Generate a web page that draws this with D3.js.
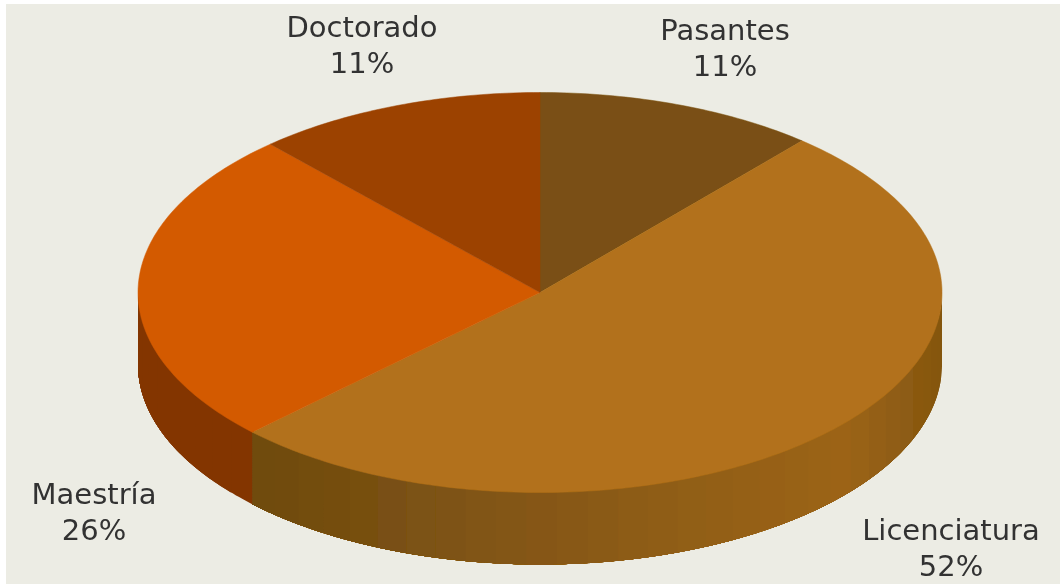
<!DOCTYPE html>
<html><head><meta charset="utf-8">
<script src="https://cdn.jsdelivr.net/npm/d3@7/dist/d3.min.js"></script>
<style>html,body{margin:0;padding:0;background:#fff}svg{display:block}</style>
</head><body><svg id="c" width="1060" height="584"></svg>
<script>
const categories = ["Pasantes","Licenciatura","Maestría","Doctorado"];
const values = [11.3,51.4,25.6,11.7];
const percentLabels = ["11%","52%","26%","11%"];
const topColors = ["#7a5012","#b2711a","#d35a00","#9c4300"];
const sideShadePositions = [0,0.5,0.86,1];
const sideShades = [
  ["#7a5012","#7a5012","#7a5012","#7a5012"],
  ["#6e4a10","#8a5a14","#9c6416","#84560f"],
  ["#833600","#833600","#833600","#833600"],
  ["#833600","#833600","#833600","#833600"]
];
const labelAnchors = [[725,40],[951,540],[94,504],[362,37]];

const W=1060,H=584,cx=540,cy=292.5,rx=402,ry=200,depth=72;
const svg=d3.select("#c");
const defs=svg.append("defs");
defs.append("filter").attr("id","soft").append("feGaussianBlur").attr("stdDeviation",0.6);
svg.append("rect").attr("width",W).attr("height",H).attr("fill","#fff");
svg.append("rect").attr("x",6).attr("y",4).attr("width",W-6).attr("height",H-4).attr("fill","#ecece4");

const arcs=d3.pie().value(d=>d).sort(null)(values);
const px=a=>cx+rx*Math.sin(a), py=a=>cy-ry*Math.cos(a);
const line=d3.line();
const g=svg.append("g").attr("filter","url(#soft)");

// side wall, in narrow bands shaded by horizontal position
const xPos=d3.scaleLinear().domain([0,1]).range([252,cx+rx]);
const shade=arcs.map((d,i)=>d3.scaleLinear().domain(sideShadePositions.map(xPos)).range(sideShades[i]).clamp(true));
const bandStep=Math.PI/40;
// each band runs on to the slice's end and the next band paints over it, leaving no seams
arcs.forEach((d,i)=>{
  const s=Math.max(d.startAngle,Math.PI/2), e=Math.min(d.endAngle,Math.PI*1.5);
  if(e<=s) return;
  const n=Math.max(1,Math.ceil((e-s)/bandStep));
  d3.range(n).forEach(k=>{
    const a0=s+(e-s)*k/n,a1=e;
    const m=Math.max(2,Math.ceil((a1-a0)/0.01));
    const pts=d3.range(m+1).map(j=>a0+(a1-a0)*j/m);
    const top=pts.map(a=>[px(a),py(a)-1]);
    const bot=pts.slice().reverse().map(a=>[px(a),py(a)+depth]);
    g.append("path").attr("d",line(top.concat(bot))+"Z")
      .attr("fill",shade[i](px(s+(e-s)*(k+0.5)/n)));
  });
});

// top face
arcs.forEach((d,i)=>{
  const n=Math.max(8,Math.ceil((d.endAngle-d.startAngle)*60));
  const pts=d3.range(n+1).map(k=>d.startAngle+(d.endAngle-d.startAngle)*k/n).map(a=>[px(a),py(a)]);
  g.append("path").attr("d",line([[cx,cy]].concat(pts))+"Z")
    .attr("fill",topColors[i]).attr("stroke",topColors[i]).attr("stroke-width",0.5);
});

const t=svg.append("g").attr("filter","url(#soft)").attr("font-family","'DejaVu Sans',Verdana,sans-serif")
  .attr("font-size",29).attr("fill","#333").attr("text-anchor","middle");
categories.forEach((c,i)=>{
  t.append("text").attr("x",labelAnchors[i][0]).attr("y",labelAnchors[i][1]).text(c);
  t.append("text").attr("x",labelAnchors[i][0]).attr("y",labelAnchors[i][1]+36).text(percentLabels[i]);
});
</script></body></html>
